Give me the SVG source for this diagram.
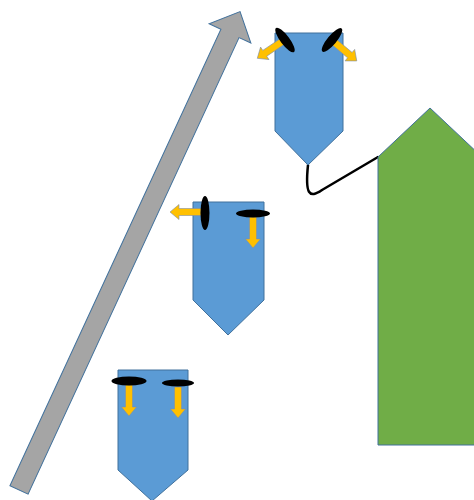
<svg xmlns="http://www.w3.org/2000/svg" width="474" height="500" viewBox="0 0 474 500">
<defs>
<style>
.body{fill:#5b9bd5;stroke:#41719c;stroke-width:1}
.green{fill:#70ad47;stroke:#41719c;stroke-width:1}
.gray{fill:#a5a5a5;stroke:#41719c;stroke-width:1}
.yarr{fill:#ffc000;stroke:#7f8fa6;stroke-width:0.6}
.ell{fill:#000000}
.conn{fill:none;stroke:#000000;stroke-width:2.5;stroke-linecap:round;stroke-linejoin:round}
</style>
<polygon id="ya" points="0,-3.5 22,-3.5 22,-7.5 31,0 22,7.5 22,3.5 0,3.5"/>
</defs>
<rect width="474" height="500" fill="#ffffff"/>
<g id="big-arrow">
<polygon class="gray" transform="translate(19,490) rotate(-65.2)" points="0,-10 503,-10 503,-23 527,0 503,23 503,10 0,10"/>
</g>
<g id="connectors">
<path class="conn" d="M308,165 C305,194 309,199 322,190 L378,157"/>
</g>
<g id="green-house">
<polygon class="green" points="378,445 378,157 430,108 482,157 482,445"/>
</g>
<g id="node-top">
<polygon class="body" points="275,33 343,33 343,131 308,165 275,131"/>
<use href="#ya" class="yarr" transform="translate(283,41) rotate(146)"/>
<use href="#ya" class="yarr" transform="translate(333,41) rotate(40)"/>
<ellipse class="ell" cx="285" cy="40" rx="15" ry="4.5" transform="rotate(53 285 40)"/>
<ellipse class="ell" cx="332" cy="40" rx="15" ry="4.5" transform="rotate(-50 332 40)"/>
</g>
<g id="node-middle">
<polygon class="body" points="193,202 264,202 264,300 228,335 193,300"/>
<use href="#ya" class="yarr" transform="translate(201,212) rotate(180)"/>
<use href="#ya" class="yarr" transform="translate(253,217) rotate(90)"/>
<ellipse class="ell" cx="205" cy="213" rx="4.5" ry="17"/>
<ellipse class="ell" cx="253" cy="213.5" rx="17" ry="4"/>
</g>
<g id="node-bottom">
<polygon class="body" points="118,370 188,370 188,470 152,501 118,470"/>
<use href="#ya" class="yarr" transform="translate(129,385) rotate(90)"/>
<use href="#ya" class="yarr" transform="translate(178,387) rotate(90)"/>
<ellipse class="ell" cx="129" cy="381" rx="17.5" ry="4.5"/>
<ellipse class="ell" cx="178" cy="383" rx="16" ry="3.5"/>
</g>
</svg>
